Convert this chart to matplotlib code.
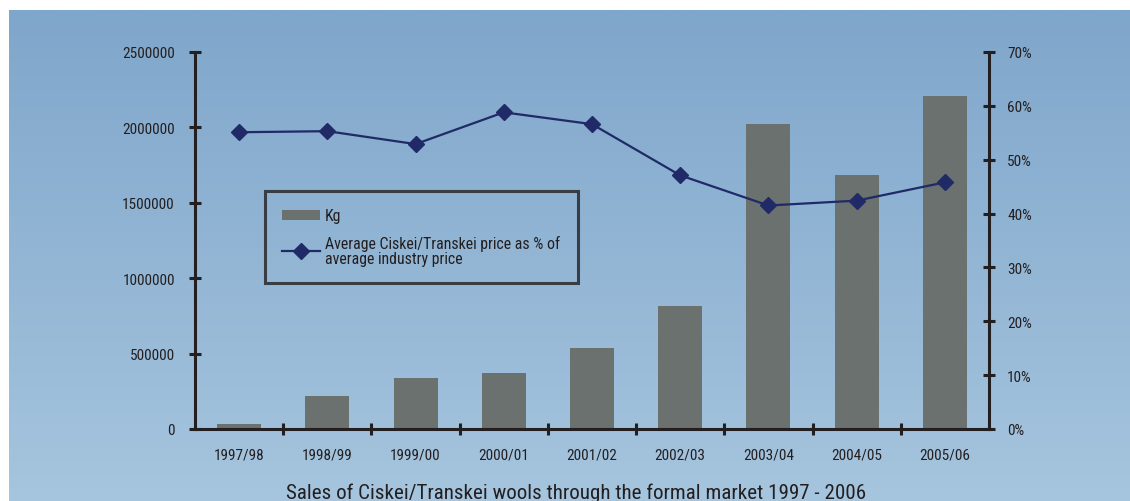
import numpy as np
import matplotlib
matplotlib.use('Agg')
import matplotlib.pyplot as plt
from matplotlib.lines import Line2D
from matplotlib.patches import Patch
from matplotlib.ticker import FuncFormatter

plt.rcParams['font.family'] = ['Roboto Condensed', 'DejaVu Sans']

# Data
seasons = ['1997/98', '1998/99', '1999/00', '2000/01', '2001/02',
           '2002/03', '2003/04', '2004/05', '2005/06']
kg = [33000, 219000, 338000, 371000, 537000, 816000, 2023000, 1684000, 2208000]
price_pct = [55.1, 55.3, 52.9, 58.8, 56.6, 47.1, 41.5, 42.4, 45.8]

bar_color = '#6a716f'
line_color = '#1f2a66'
axis_color = '#231f20'
text_color = '#231f20'

W, H = 1130, 502
fig = plt.figure(figsize=(W / 100, H / 100), dpi=100)
fig.patch.set_facecolor('white')

# gradient background panel
bg = fig.add_axes([9 / W, 0, 1 - 9 / W, 1 - 11 / H])
top = np.array([0x7f, 0xa6, 0xcb]) / 255
bot = np.array([0xa6, 0xc5, 0xde]) / 255
t = np.linspace(0, 1, 256)[:, None]
grad = (top[None, :] * (1 - t) + bot[None, :] * t)[:, None, :]
bg.imshow(grad, aspect='auto', extent=[0, 1, 0, 1])
bg.set_axis_off()

# main axes
x0, x1 = 195, 989
y0, y1 = 53, 430
ax = fig.add_axes([x0 / W, 1 - y1 / H, (x1 - x0) / W, (y1 - y0) / H])
ax.patch.set_alpha(0)
x = np.arange(len(seasons))
ax.bar(x, kg, width=0.5, color=bar_color, zorder=2)
ax.set_xlim(-0.5, len(seasons) - 0.5)
ax.set_ylim(0, 2500000)
ax.set_yticks(np.arange(0, 2500001, 500000))
ax.yaxis.set_major_formatter(FuncFormatter(lambda v, p: f'{int(v)}'))
ax.set_xticks(x)
ax.set_xticklabels(seasons)
ax.set_xticks(np.arange(0.5, len(seasons) - 1, 1), minor=True)
ax.tick_params(axis='x', which='major', length=0, pad=13, labelsize=11, labelcolor=text_color)
ax.tick_params(axis='x', which='minor', length=9, width=2.2, direction='inout', color=axis_color)
ax.tick_params(axis='y', which='major', length=9, width=2.2, direction='inout', color=axis_color,
               pad=10, labelsize=11, labelcolor=text_color)
ax.spines['top'].set_visible(False)
ax.spines['right'].set_visible(False)
for s in ['left', 'bottom']:
    ax.spines[s].set_linewidth(2.2)
    ax.spines[s].set_color(axis_color)

ax2 = ax.twinx()
ax2.plot(x, price_pct, color=line_color, lw=1.6, marker='D', markersize=8, zorder=3)
ax2.set_ylim(0, 70)
ax2.set_yticks(np.arange(0, 71, 10))
ax2.yaxis.set_major_formatter(FuncFormatter(lambda v, p: f'{int(v)}%'))
ax2.tick_params(axis='y', which='major', length=9, width=2.2, direction='inout', color=axis_color,
                pad=8.5, labelsize=11, labelcolor=text_color)
for s in ['top', 'left', 'bottom']:
    ax2.spines[s].set_visible(False)
ax2.spines['right'].set_linewidth(2.2)
ax2.spines['right'].set_color(axis_color)

# legend
handles = [Patch(facecolor=bar_color, edgecolor='none'),
           Line2D([0], [0], color=line_color, lw=1.6, marker='D', markersize=8)]
labels = ['Kg', 'Average Ciskei/Transkei price as % of\naverage industry price']
leg = fig.legend(handles, labels, loc='upper left',
                 bbox_to_anchor=(265 / W, 1 - 192 / H), borderaxespad=0,
                 frameon=True, fancybox=False,
                 fontsize=11.4, handlelength=2.4, handleheight=0.6, labelspacing=0.75,
                 borderpad=1.1, handletextpad=0.3, labelcolor=text_color)
leg.get_texts()[1].set_linespacing(0.95)
frame = leg.get_frame()
frame.set_facecolor('none')
frame.set_edgecolor(axis_color)
frame.set_linewidth(2.2)

fig.text(576 / W, 1 - 493 / H, 'Sales of Ciskei/Transkei wools through the formal market 1997 - 2006',
         ha='center', va='center', fontsize=15.1, color=text_color)

fig.savefig('out.png', dpi=100)
